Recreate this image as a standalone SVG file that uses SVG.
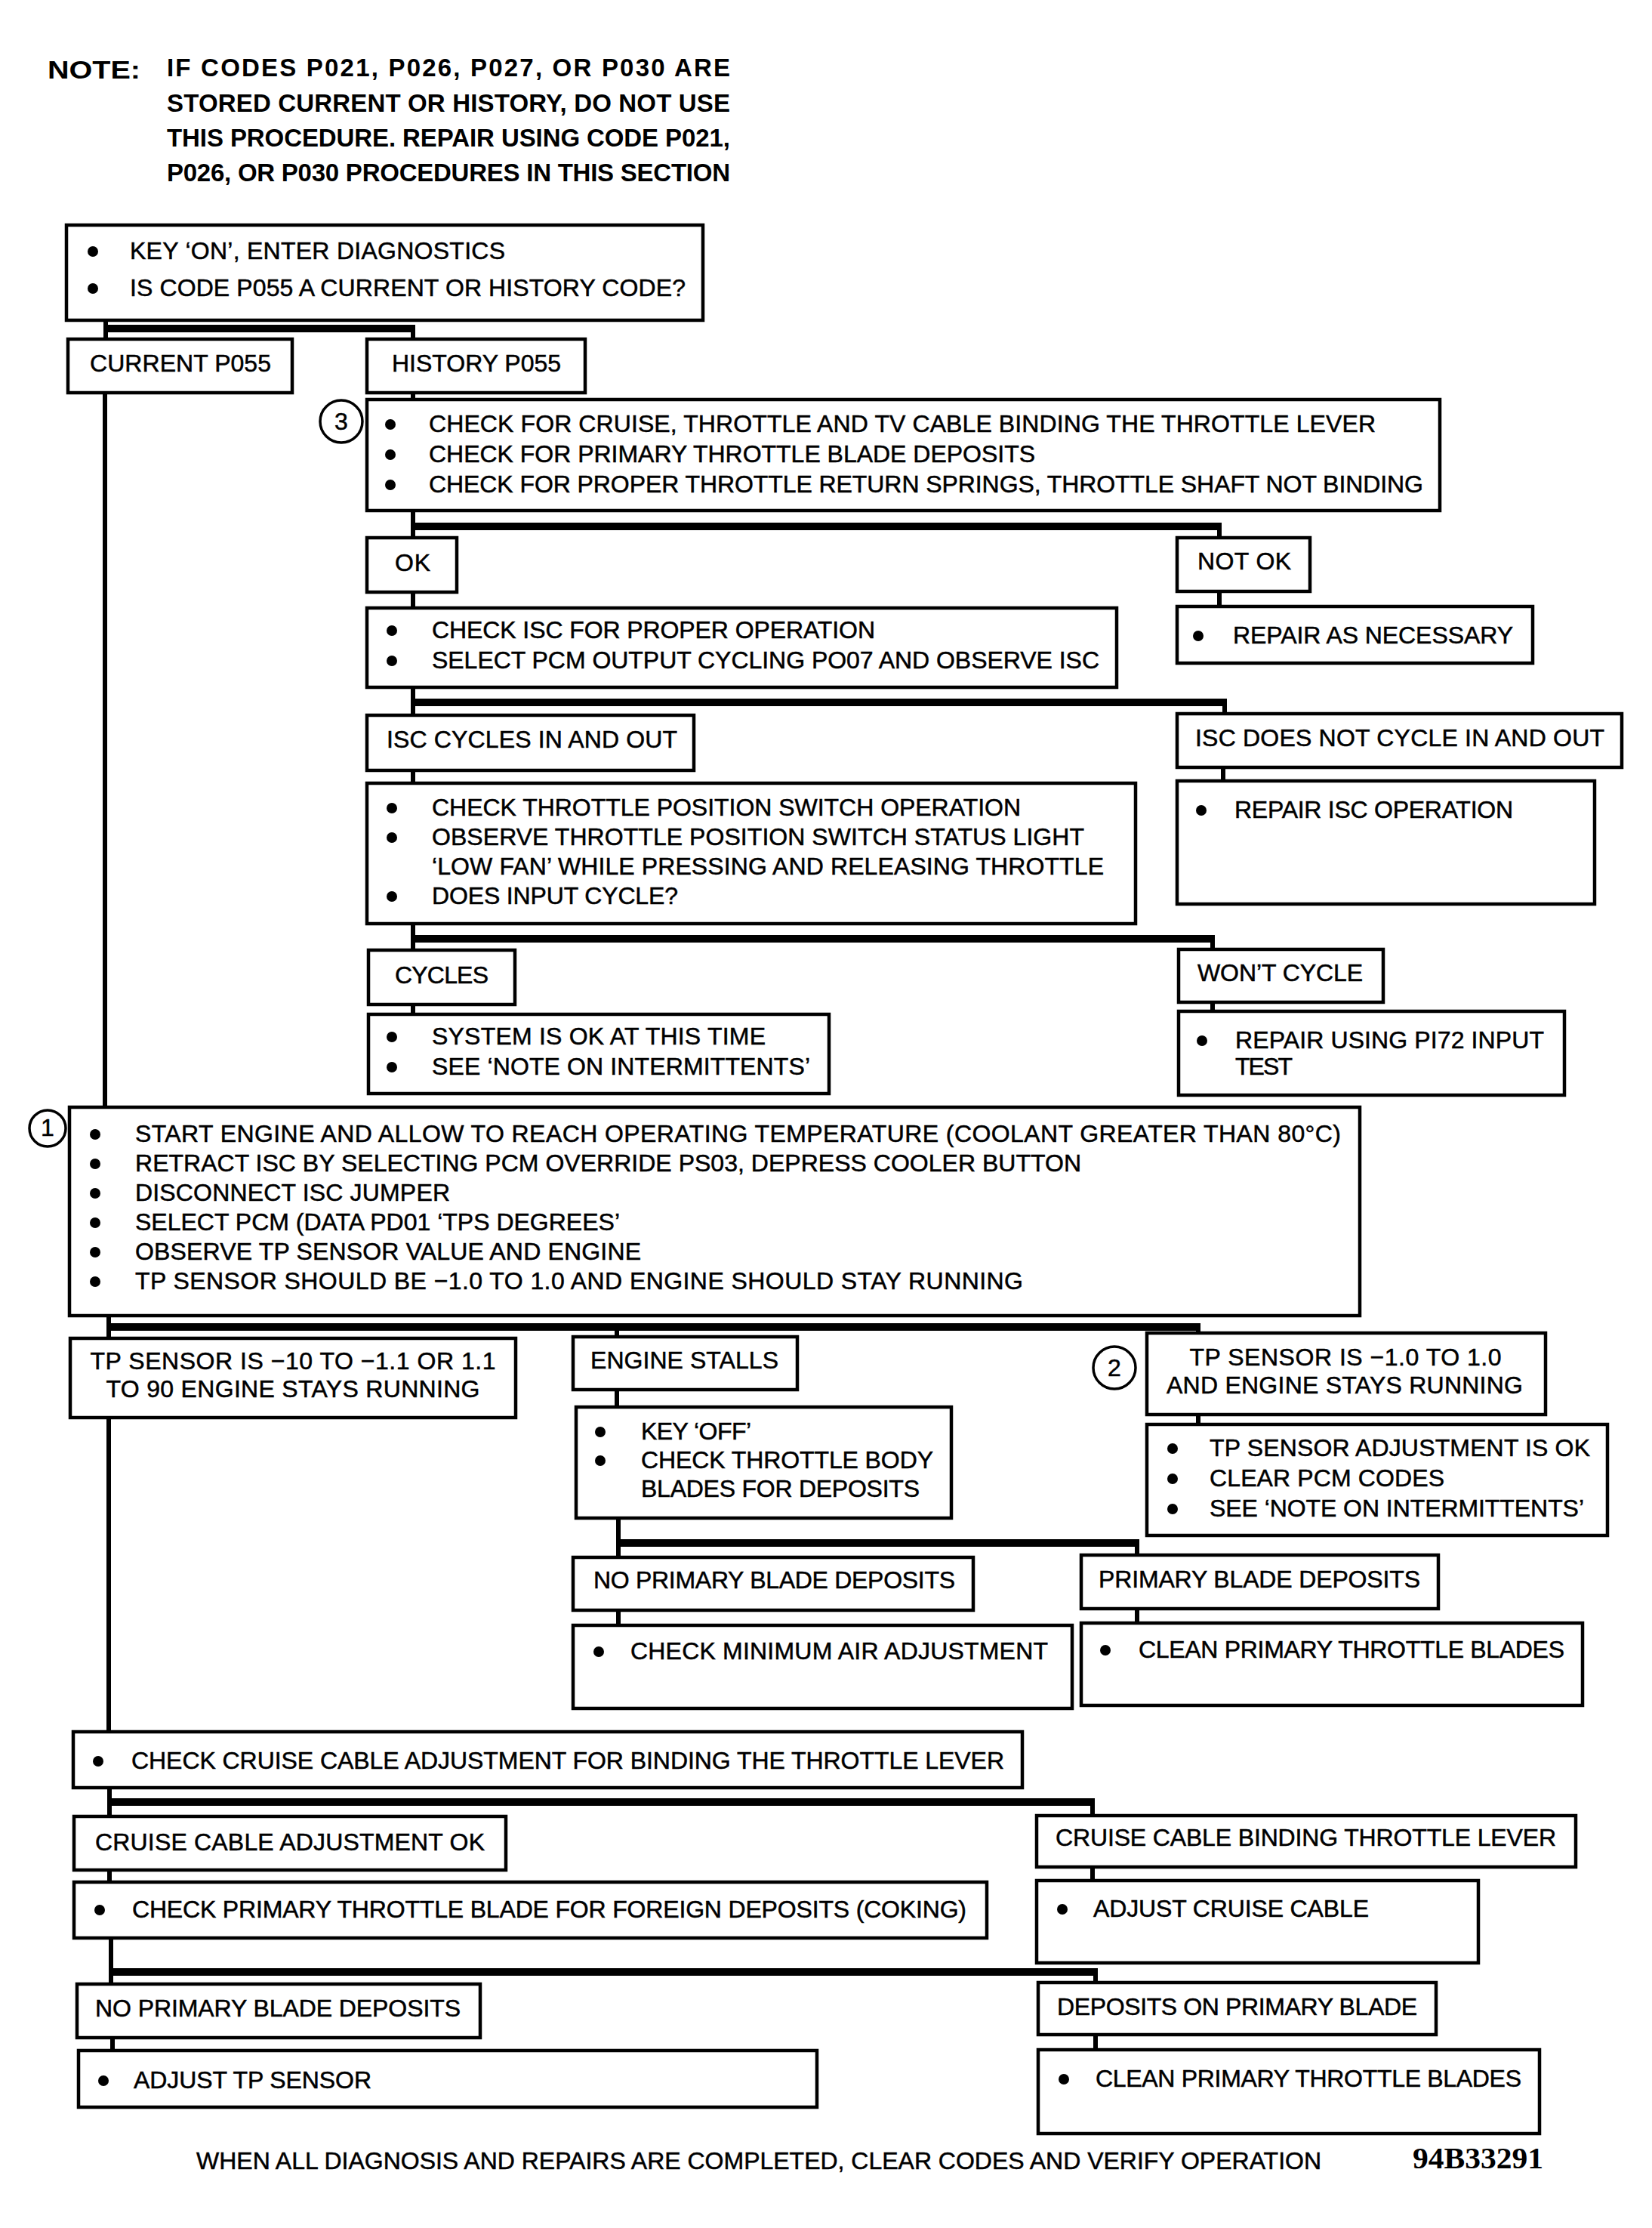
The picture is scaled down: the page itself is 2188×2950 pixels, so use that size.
<svg xmlns="http://www.w3.org/2000/svg" width="2188" height="2950" viewBox="0 0 2188 2950">
<style>
.bx{fill:#fff;stroke:#000;stroke-width:4.5}
.t{font-family:"Liberation Sans",Arial,sans-serif;font-size:32px;fill:#000;stroke:#000;stroke-width:0.5}
.c{text-anchor:middle}
.nb{font-family:"Liberation Sans",Arial,sans-serif;font-weight:bold;font-size:33px;fill:#000}
.bu{fill:#000}
.cir{fill:#fff;stroke:#000;stroke-width:3.5}
.v{stroke:#000;stroke-width:6;fill:none}
.bar{fill:#000}
</style>
<rect width="2188" height="2950" fill="#fff"/>

<g id="note">
<text class="nb" x="63" y="104" font-size="39" textLength="123" lengthAdjust="spacingAndGlyphs">NOTE:</text>
<text class="nb" x="221" y="101" textLength="746">IF CODES P021, P026, P027, OR P030 ARE</text>
<text class="nb" x="221" y="148" textLength="746">STORED CURRENT OR HISTORY, DO NOT USE</text>
<text class="nb" x="221" y="194" textLength="746">THIS PROCEDURE. REPAIR USING CODE P021,</text>
<text class="nb" x="221" y="240" textLength="746">P026, OR P030 PROCEDURES IN THIS SECTION</text>
</g>

<g id="connectors">
<line class="v" x1="140" y1="424" x2="140" y2="449"/>
<rect class="bar" x="137" y="430" width="413" height="10"/>
<line class="v" x1="547" y1="434" x2="547" y2="449"/>
<line class="v" x1="139" y1="520" x2="139" y2="1467"/>
<line class="v" x1="547" y1="520" x2="547" y2="529"/>
<line class="v" x1="547" y1="676" x2="547" y2="712"/>
<rect class="bar" x="544" y="692" width="1074" height="10"/>
<line class="v" x1="1615" y1="697" x2="1615" y2="712"/>
<line class="v" x1="547" y1="784" x2="547" y2="805"/>
<line class="v" x1="1615" y1="783" x2="1615" y2="803"/>
<line class="v" x1="547" y1="910" x2="547" y2="947"/>
<rect class="bar" x="544" y="925" width="1081" height="10"/>
<line class="v" x1="1622" y1="929" x2="1622" y2="945"/>
<line class="v" x1="547" y1="1020" x2="547" y2="1037"/>
<line class="v" x1="1620" y1="1016" x2="1620" y2="1034"/>
<line class="v" x1="547" y1="1223" x2="547" y2="1258"/>
<rect class="bar" x="544" y="1238" width="1065" height="10"/>
<line class="v" x1="1606" y1="1243" x2="1606" y2="1257"/>
<line class="v" x1="547" y1="1330" x2="547" y2="1343"/>
<line class="v" x1="1606" y1="1327" x2="1606" y2="1339"/>
<line class="v" x1="144" y1="1742" x2="144" y2="1772"/>
<rect class="bar" x="141" y="1752" width="1449" height="10"/>
<line class="v" x1="817" y1="1757" x2="817" y2="1770"/>
<line class="v" x1="1587" y1="1757" x2="1587" y2="1765"/>
<line class="v" x1="144" y1="1877" x2="144" y2="2293"/>
<line class="v" x1="817" y1="1840" x2="817" y2="1863"/>
<line class="v" x1="1587" y1="1873" x2="1587" y2="1886"/>
<line class="v" x1="819" y1="2010" x2="819" y2="2062"/>
<rect class="bar" x="816" y="2038" width="693" height="10"/>
<line class="v" x1="1506" y1="2043" x2="1506" y2="2059"/>
<line class="v" x1="819" y1="2132" x2="819" y2="2152"/>
<line class="v" x1="1506" y1="2130" x2="1506" y2="2149"/>
<line class="v" x1="145" y1="2367" x2="145" y2="2405"/>
<rect class="bar" x="142" y="2381" width="1308" height="10"/>
<line class="v" x1="1447" y1="2385" x2="1447" y2="2404"/>
<line class="v" x1="145" y1="2476" x2="145" y2="2492"/>
<line class="v" x1="1447" y1="2472" x2="1447" y2="2490"/>
<line class="v" x1="147" y1="2566" x2="147" y2="2627"/>
<rect class="bar" x="144" y="2606" width="1310" height="10"/>
<line class="v" x1="1451" y1="2610" x2="1451" y2="2625"/>
<line class="v" x1="149" y1="2698" x2="149" y2="2715"/>
<line class="v" x1="1451" y1="2694" x2="1451" y2="2714"/>
</g>

<g id="n-keyon">
<rect class="bx" x="88" y="298" width="843" height="126"/>
<circle class="bu" cx="123" cy="333" r="7"/>
<text class="t" x="172" y="343" textLength="497">KEY ‘ON’, ENTER DIAGNOSTICS</text>
<circle class="bu" cx="123" cy="382" r="7"/>
<text class="t" x="172" y="392" textLength="736">IS CODE P055 A CURRENT OR HISTORY CODE?</text>
</g>

<g id="n-current">
<rect class="bx" x="90" y="449" width="297" height="71"/>
<text class="t" x="119" y="492" textLength="240">CURRENT P055</text>
</g>

<g id="n-history">
<rect class="bx" x="486" y="449" width="289" height="71"/>
<text class="t" x="519" y="492" textLength="224">HISTORY P055</text>
</g>

<g id="n-check3">
<rect class="bx" x="486" y="529" width="1421" height="147"/>
<circle class="cir" cx="452" cy="558" r="28"/>
<text class="t c" x="452" y="569">3</text>
<circle class="bu" cx="517" cy="562" r="7"/>
<text class="t" x="568" y="572" textLength="1254">CHECK FOR CRUISE, THROTTLE AND TV CABLE BINDING THE THROTTLE LEVER</text>
<circle class="bu" cx="517" cy="602" r="7"/>
<text class="t" x="568" y="612" textLength="803">CHECK FOR PRIMARY THROTTLE BLADE DEPOSITS</text>
<circle class="bu" cx="517" cy="642" r="7"/>
<text class="t" x="568" y="652" textLength="1317">CHECK FOR PROPER THROTTLE RETURN SPRINGS, THROTTLE SHAFT NOT BINDING</text>
</g>

<g id="n-ok">
<rect class="bx" x="486" y="712" width="119" height="72"/>
<text class="t" x="523" y="756" textLength="47">OK</text>
</g>

<g id="n-notok">
<rect class="bx" x="1559" y="712" width="176" height="71"/>
<text class="t" x="1586" y="754" textLength="124">NOT OK</text>
</g>

<g id="n-checkisc">
<rect class="bx" x="486" y="805" width="993" height="105"/>
<circle class="bu" cx="519" cy="835" r="7"/>
<text class="t" x="572" y="845" textLength="587">CHECK ISC FOR PROPER OPERATION</text>
<circle class="bu" cx="519" cy="875" r="7"/>
<text class="t" x="572" y="885" textLength="884">SELECT PCM OUTPUT CYCLING PO07 AND OBSERVE ISC</text>
</g>

<g id="n-repairas">
<rect class="bx" x="1559" y="803" width="471" height="75"/>
<circle class="bu" cx="1587" cy="842" r="7"/>
<text class="t" x="1633" y="852" textLength="371">REPAIR AS NECESSARY</text>
</g>

<g id="n-isccycles">
<rect class="bx" x="486" y="947" width="433" height="73"/>
<text class="t" x="512" y="990" textLength="385">ISC CYCLES IN AND OUT</text>
</g>

<g id="n-iscnot">
<rect class="bx" x="1559" y="945" width="589" height="71"/>
<text class="t" x="1583" y="988" textLength="542">ISC DOES NOT CYCLE IN AND OUT</text>
</g>

<g id="n-checkthrottle">
<rect class="bx" x="486" y="1037" width="1018" height="186"/>
<circle class="bu" cx="519" cy="1070" r="7"/>
<text class="t" x="572" y="1080" textLength="780">CHECK THROTTLE POSITION SWITCH OPERATION</text>
<circle class="bu" cx="519" cy="1109" r="7"/>
<text class="t" x="572" y="1119" textLength="864">OBSERVE THROTTLE POSITION SWITCH STATUS LIGHT</text>
<text class="t" x="572" y="1158" textLength="890">‘LOW FAN’ WHILE PRESSING AND RELEASING THROTTLE</text>
<circle class="bu" cx="519" cy="1187" r="7"/>
<text class="t" x="572" y="1197" textLength="326">DOES INPUT CYCLE?</text>
</g>

<g id="n-repairisc">
<rect class="bx" x="1559" y="1034" width="553" height="163"/>
<circle class="bu" cx="1591" cy="1073" r="7"/>
<text class="t" x="1635" y="1083" textLength="369">REPAIR ISC OPERATION</text>
</g>

<g id="n-cycles">
<rect class="bx" x="488" y="1258" width="194" height="72"/>
<text class="t" x="523" y="1302" textLength="124">CYCLES</text>
</g>

<g id="n-wontcycle">
<rect class="bx" x="1561" y="1257" width="271" height="70"/>
<text class="t" x="1586" y="1299" textLength="219">WON’T CYCLE</text>
</g>

<g id="n-systemok">
<rect class="bx" x="488" y="1343" width="610" height="105"/>
<circle class="bu" cx="519" cy="1373" r="7"/>
<text class="t" x="572" y="1383" textLength="442">SYSTEM IS OK AT THIS TIME</text>
<circle class="bu" cx="519" cy="1413" r="7"/>
<text class="t" x="572" y="1423" textLength="501">SEE ‘NOTE ON INTERMITTENTS’</text>
</g>

<g id="n-repairusing">
<rect class="bx" x="1561" y="1339" width="511" height="111"/>
<circle class="bu" cx="1592" cy="1378" r="7"/>
<text class="t" x="1636" y="1388" textLength="409">REPAIR USING PI72 INPUT</text>
<text class="t" x="1636" y="1423" textLength="76">TEST</text>
</g>

<g id="n-start">
<rect class="bx" x="92" y="1466" width="1709" height="276"/>
<circle class="cir" cx="63" cy="1494" r="24"/>
<text class="t c" x="63" y="1504" font-size="28">1</text>
<circle class="bu" cx="126" cy="1502" r="7"/>
<text class="t" x="179" y="1512" textLength="1597">START ENGINE AND ALLOW TO REACH OPERATING TEMPERATURE (COOLANT  GREATER THAN  80°C)</text>
<circle class="bu" cx="126" cy="1541" r="7"/>
<text class="t" x="179" y="1551" textLength="1253">RETRACT ISC BY SELECTING PCM OVERRIDE PS03, DEPRESS COOLER BUTTON</text>
<circle class="bu" cx="126" cy="1580" r="7"/>
<text class="t" x="179" y="1590" textLength="417">DISCONNECT ISC JUMPER</text>
<circle class="bu" cx="126" cy="1619" r="7"/>
<text class="t" x="179" y="1629" textLength="642">SELECT PCM (DATA PD01 ‘TPS DEGREES’</text>
<circle class="bu" cx="126" cy="1658" r="7"/>
<text class="t" x="179" y="1668" textLength="670">OBSERVE TP SENSOR VALUE AND ENGINE</text>
<circle class="bu" cx="126" cy="1697" r="7"/>
<text class="t" x="179" y="1707" textLength="1176">TP SENSOR SHOULD BE −1.0 TO 1.0 AND ENGINE SHOULD STAY RUNNING</text>
</g>

<g id="n-tpneg10">
<rect class="bx" x="93" y="1772" width="590" height="105"/>
<text class="t c" x="388" y="1813" textLength="537">TP SENSOR IS −10 TO −1.1 OR 1.1</text>
<text class="t c" x="388" y="1850" textLength="495">TO 90 ENGINE STAYS RUNNING</text>
</g>

<g id="n-enginestalls">
<rect class="bx" x="759" y="1770" width="297" height="70"/>
<text class="t" x="782" y="1812" textLength="249">ENGINE STALLS</text>
</g>

<g id="n-tp10">
<rect class="bx" x="1519" y="1765" width="528" height="108"/>
<circle class="cir" cx="1476" cy="1811" r="28"/>
<text class="t c" x="1476" y="1822">2</text>
<text class="t c" x="1782" y="1808" textLength="413">TP SENSOR IS −1.0 TO 1.0</text>
<text class="t c" x="1781" y="1845" textLength="472">AND ENGINE STAYS RUNNING</text>
</g>

<g id="n-keyoff">
<rect class="bx" x="763" y="1863" width="497" height="147"/>
<circle class="bu" cx="795" cy="1896" r="7"/>
<text class="t" x="849" y="1906" textLength="146">KEY ‘OFF’</text>
<circle class="bu" cx="795" cy="1934" r="7"/>
<text class="t" x="849" y="1944" textLength="387">CHECK THROTTLE BODY</text>
<text class="t" x="849" y="1982" textLength="369">BLADES FOR DEPOSITS</text>
</g>

<g id="n-tpadj">
<rect class="bx" x="1519" y="1886" width="610" height="147"/>
<circle class="bu" cx="1553" cy="1918" r="7"/>
<text class="t" x="1602" y="1928" textLength="504">TP SENSOR ADJUSTMENT IS OK</text>
<circle class="bu" cx="1553" cy="1958" r="7"/>
<text class="t" x="1602" y="1968" textLength="311">CLEAR PCM CODES</text>
<circle class="bu" cx="1553" cy="1998" r="7"/>
<text class="t" x="1602" y="2008" textLength="496">SEE ‘NOTE ON INTERMITTENTS’</text>
</g>

<g id="n-noprim1">
<rect class="bx" x="759" y="2062" width="530" height="70"/>
<text class="t" x="786" y="2103" textLength="479">NO PRIMARY BLADE DEPOSITS</text>
</g>

<g id="n-prim1">
<rect class="bx" x="1432" y="2059" width="473" height="71"/>
<text class="t" x="1455" y="2102" textLength="426">PRIMARY BLADE DEPOSITS</text>
</g>

<g id="n-checkmin">
<rect class="bx" x="759" y="2152" width="661" height="110"/>
<circle class="bu" cx="793" cy="2187" r="7"/>
<text class="t" x="835" y="2197" textLength="553">CHECK MINIMUM AIR ADJUSTMENT</text>
</g>

<g id="n-clean1">
<rect class="bx" x="1432" y="2149" width="664" height="109"/>
<circle class="bu" cx="1464" cy="2185" r="7"/>
<text class="t" x="1508" y="2195" textLength="564">CLEAN PRIMARY THROTTLE BLADES</text>
</g>

<g id="n-checkcruise">
<rect class="bx" x="97" y="2293" width="1257" height="74"/>
<circle class="bu" cx="130" cy="2332" r="7"/>
<text class="t" x="174" y="2342" textLength="1156">CHECK CRUISE CABLE ADJUSTMENT FOR BINDING THE THROTTLE LEVER</text>
</g>

<g id="n-cruiseok">
<rect class="bx" x="98" y="2405" width="572" height="71"/>
<text class="t" x="126" y="2450" textLength="516">CRUISE CABLE ADJUSTMENT OK</text>
</g>

<g id="n-cruisebind">
<rect class="bx" x="1373" y="2404" width="714" height="68"/>
<text class="t" x="1398" y="2444" textLength="663">CRUISE CABLE BINDING THROTTLE LEVER</text>
</g>

<g id="n-checkprim">
<rect class="bx" x="98" y="2492" width="1209" height="74"/>
<circle class="bu" cx="132" cy="2529" r="7"/>
<text class="t" x="175" y="2539" textLength="1105">CHECK PRIMARY THROTTLE BLADE FOR FOREIGN DEPOSITS (COKING)</text>
</g>

<g id="n-adjcruise">
<rect class="bx" x="1373" y="2490" width="585" height="109"/>
<circle class="bu" cx="1407" cy="2528" r="7"/>
<text class="t" x="1448" y="2538" textLength="365">ADJUST CRUISE CABLE</text>
</g>

<g id="n-noprim2">
<rect class="bx" x="102" y="2627" width="534" height="71"/>
<text class="t" x="126" y="2670" textLength="484">NO PRIMARY BLADE DEPOSITS</text>
</g>

<g id="n-deposits">
<rect class="bx" x="1375" y="2625" width="527" height="69"/>
<text class="t" x="1400" y="2668" textLength="477">DEPOSITS ON PRIMARY BLADE</text>
</g>

<g id="n-adjtp">
<rect class="bx" x="104" y="2715" width="978" height="75"/>
<circle class="bu" cx="137" cy="2755" r="7"/>
<text class="t" x="177" y="2765" textLength="315">ADJUST TP SENSOR</text>
</g>

<g id="n-clean2">
<rect class="bx" x="1375" y="2714" width="664" height="111"/>
<circle class="bu" cx="1409" cy="2753" r="7"/>
<text class="t" x="1451" y="2763" textLength="564">CLEAN PRIMARY THROTTLE BLADES</text>
</g>

<g id="footer">
<text class="t" x="260" y="2872" textLength="1490">WHEN ALL DIAGNOSIS AND REPAIRS ARE COMPLETED, CLEAR CODES AND VERIFY OPERATION</text>
<text x="1871" y="2871" font-family="Liberation Serif,'Times New Roman',serif" font-weight="bold" font-size="40" textLength="173" lengthAdjust="spacingAndGlyphs">94B33291</text>
</g>
</svg>
